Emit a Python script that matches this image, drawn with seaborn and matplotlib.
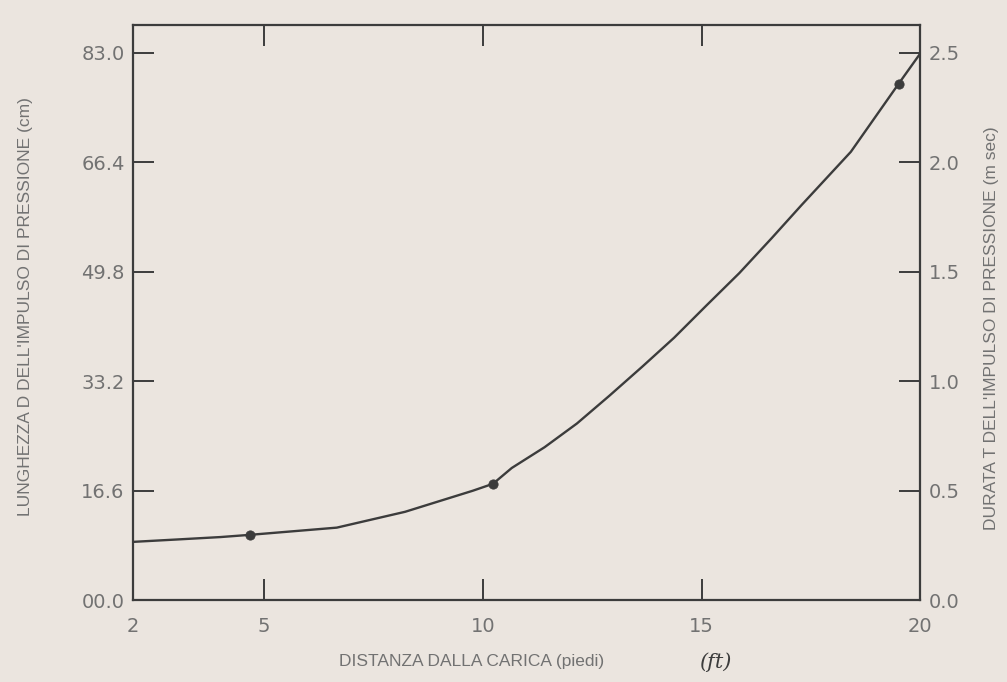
import matplotlib
matplotlib.use("Agg")
import matplotlib.pyplot as plt
import seaborn as sns
import pandas as pd

# ---- data ----
distance_ft = [2.0, 3.0, 4.0, 4.68, 6.66, 8.22, 9.77, 10.23, 10.66, 11.41, 12.15, 12.89,
               13.64, 14.37, 15.11, 15.86, 16.6, 17.28, 18.41, 19.5, 20.0]
length_cm = [8.84, 9.2, 9.57, 9.91, 11.0, 13.4, 16.6, 17.65, 20.05, 23.2, 26.8, 31.0,
             35.4, 39.8, 44.7, 49.6, 54.9, 59.9, 68.0, 78.3, 82.95]
marker_x = [4.68, 10.23, 19.5]
marker_y = [9.91, 17.65, 78.3]
x_ticks = [2, 5, 10, 15, 20]
left_ticks = [0.0, 16.6, 33.2, 49.8, 66.4, 83.0]
left_tick_labels = ["00.0", "16.6", "33.2", "49.8", "66.4", "83.0"]
right_ticks = [0.0, 0.5, 1.0, 1.5, 2.0, 2.5]
right_tick_labels = ["0.0", "0.5", "1.0", "1.5", "2.0", "2.5"]
CM_PER_MS = 33.2

paper = "#ebe5df"
ink = "#3c3c3c"
grey = "#727272"

sns.set_theme(style="white")
plt.rcParams["font.family"] = ["DejaVu Sans"]

fig = plt.figure(figsize=(10.07, 6.82), dpi=100, facecolor=paper)
ax = fig.add_axes([0.132, 0.12, 0.782, 0.843])
ax.set_facecolor(paper)

curve = pd.DataFrame({"x": distance_ft, "y": length_cm})
pts = pd.DataFrame({"x": marker_x, "y": marker_y})
sns.lineplot(data=curve, x="x", y="y", ax=ax, color=ink, linewidth=1.7)
sns.scatterplot(data=pts, x="x", y="y", ax=ax, color=ink, s=45, edgecolor=ink, zorder=3)

ax.set_xlim(2, 20)
ax.set_ylim(0, 87.2)

for s in ax.spines.values():
    s.set_visible(True)
    s.set_color(ink)
    s.set_linewidth(1.6)

ax.set_xticks(x_ticks)
ax.set_xticklabels([str(v) for v in x_ticks])
ax.set_yticks(left_ticks)
ax.set_yticklabels(left_tick_labels)
ax.tick_params(axis="both", direction="in", length=15, width=1.4, color=ink,
               labelsize=14, labelcolor=grey)
ax.tick_params(axis="x", top=True, bottom=True, labeltop=False, pad=12)
ax.tick_params(axis="y", left=True, right=False, pad=6)

sec = ax.secondary_yaxis("right", functions=(lambda y: y / CM_PER_MS, lambda t: t * CM_PER_MS))
sec.set_yticks(right_ticks)
sec.set_yticklabels(right_tick_labels)
sec.tick_params(direction="in", length=15, width=1.4, color=ink, labelsize=14,
                labelcolor=grey, pad=6)
sec.spines["right"].set_visible(False)

ax.set_xlabel("DISTANZA DALLA CARICA (piedi)", fontsize=12.5, color=grey,
              family="Liberation Sans")
ax.xaxis.set_label_coords(0.43, -0.094)
ax.set_ylabel("LUNGHEZZA D DELL'IMPULSO DI PRESSIONE (cm)", fontsize=12.5, color=grey,
              family="Liberation Sans")
ax.yaxis.set_label_coords(-0.127, 0.51)
ax.text(1.081, 0.473, "DURATA T DELL'IMPULSO DI PRESSIONE (m sec)", transform=ax.transAxes,
        rotation=90, ha="left", va="center", fontsize=12.5, color=grey,
        family="Liberation Sans")

ax.text(15.3, -0.108, "(ft)", transform=ax.get_xaxis_transform(), ha="center", va="center",
        fontsize=15, color=ink, family="DejaVu Serif", style="italic")

fig.savefig("out.png", dpi=100, facecolor=paper)
